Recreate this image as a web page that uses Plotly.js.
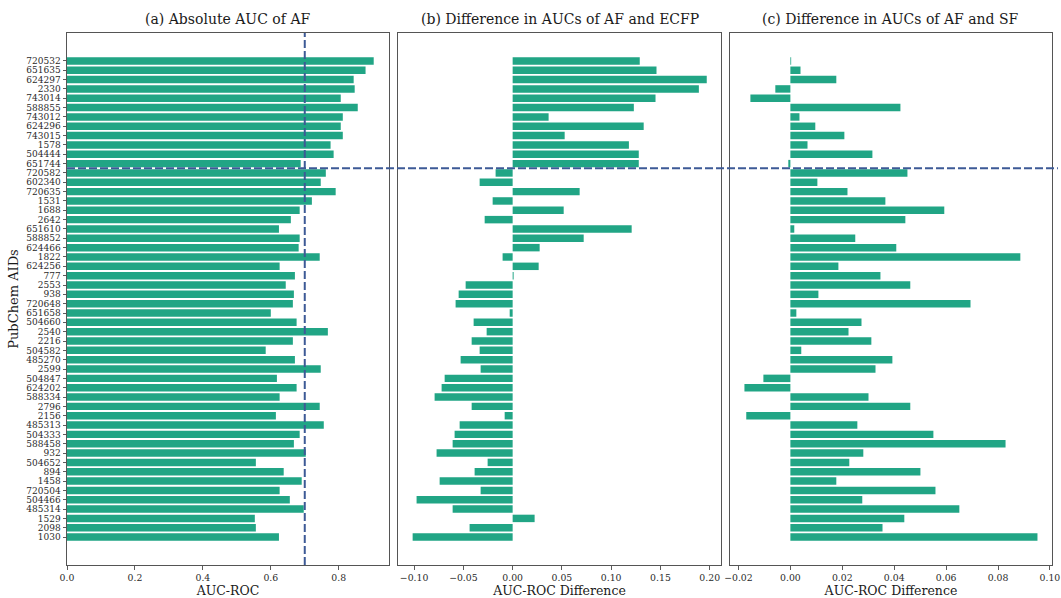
<!DOCTYPE html>
<html>
<head>
<meta charset="utf-8">
<script src="https://cdn.plot.ly/plotly-3.0.1.min.js"></script>
<style>html,body{margin:0;padding:0;background:#fff;}#chart{width:1061px;height:598px;}</style>
</head>
<body>
<div id="chart"></div>
<script>
const aids = ["720532","651635","624297","2330","743014","588855","743012","624296","743015","1578","504444","651744",
"720582","602340","720635","1531","1688","2642","651610","588852","624466","1822","624256","777","2553","938","720648",
"651658","504660","2540","2216","504582","485270","2599","504847","624202","588334","2796","2156","485313","504333",
"588458","932","504652","894","1458","720504","504466","485314","1529","2098","1030"];

const aucAF = [0.903,0.879,0.844,0.847,0.806,0.856,0.812,0.806,0.812,0.776,0.785,0.688,
0.762,0.747,0.791,0.721,0.685,0.659,0.624,0.685,0.682,0.744,0.626,0.671,0.644,0.668,0.665,
0.600,0.676,0.768,0.665,0.585,0.671,0.747,0.618,0.676,0.626,0.744,0.615,0.756,0.685,
0.668,0.703,0.556,0.638,0.691,0.626,0.656,0.697,0.553,0.556,0.624];

const diffECFP = [0.129,0.146,0.197,0.189,0.145,0.123,0.0365,0.133,0.0528,0.118,0.128,0.128,
-0.0173,-0.0335,0.068,-0.0203,0.0518,-0.0284,0.1208,0.0721,0.0274,-0.0102,0.0264,0.001,-0.0477,-0.0548,-0.0579,
-0.003,-0.0396,-0.0264,-0.0416,-0.0335,-0.0528,-0.0325,-0.069,-0.0721,-0.0792,-0.0416,-0.0081,-0.0538,-0.0589,
-0.0609,-0.0772,-0.0254,-0.0386,-0.0741,-0.0325,-0.0975,-0.0609,0.0223,-0.0437,-0.1015];

const diffSF = [0.0003,0.0039,0.0177,-0.0058,-0.0154,0.0424,0.0035,0.0096,0.0208,0.0066,0.0316,-0.0008,
0.0451,0.0104,0.022,0.0366,0.0593,0.0443,0.0015,0.025,0.0408,0.0886,0.0185,0.0347,0.0462,0.0108,0.0694,
0.0023,0.0274,0.0224,0.0312,0.0042,0.0393,0.0328,-0.0104,-0.0177,0.0301,0.0462,-0.017,0.0258,0.0551,
0.0829,0.0281,0.0227,0.0501,0.0177,0.0559,0.0277,0.0651,0.0439,0.0355,0.0952];

const panelTitles = ["(a) Absolute AUC of AF","(b) Difference in AUCs of AF and ECFP","(c) Difference in AUCs of AF and SF"];
const xTitles = ["AUC-ROC","AUC-ROC Difference","AUC-ROC Difference"];
const threshold = 0.7;

const FONT = "DejaVu Serif, Liberation Serif, serif";
const BAR = "#21a585";
const LINE = "#3d5a96";

const mk = (x, xa, ya) => ({type:'bar', orientation:'h', y:aids, x:x, xaxis:xa, yaxis:ya,
  marker:{color:BAR, line:{width:0}}, hoverinfo:'x+y'});

const data = [mk(aucAF,'x','y'), mk(diffECFP,'x2','y2'), mk(diffSF,'x3','y3')];

const domains = [[0,0.3269],[0.336,0.664],[0.673,1]];
const yr = [51+2.99, -2.99];
const baseY = {type:'category', categoryorder:'array', categoryarray:aids, range:yr,
  showline:true, mirror:true, linecolor:'#555', linewidth:1, showgrid:false, zeroline:false, fixedrange:true};
const baseX = (dom, rng, dt, fmt, title) => ({domain:dom, range:rng, dtick:dt, tick0:0, tickformat:fmt,
  showline:true, mirror:true, linecolor:'#555', linewidth:1, showgrid:false, zeroline:false,
  ticks:'outside', ticklen:3.5, tickwidth:0.8, tickcolor:'#333',
  tickfont:{family:FONT, size:9.3, color:'#2a2a2a'},
  title:{text:title, font:{family:FONT, size:12.5, color:'#1a1a1a'}, standoff:4}});

const layout = {
  width:1061, height:598,
  margin:{l:67, r:9, t:33, b:33, pad:0},
  paper_bgcolor:'#fff', plot_bgcolor:'#fff',
  showlegend:false, bargap:0.2,
  font:{family:FONT, color:'#1a1a1a'},
  xaxis: baseX(domains[0],[0,0.948],0.2,'.1f',xTitles[0]),
  xaxis2: baseX(domains[1],[-0.1164,0.2115],0.05,'.2f',xTitles[1]),
  xaxis3: baseX(domains[2],[-0.0233,0.1008],0.02,'.2f',xTitles[2]),
  yaxis: Object.assign({}, baseY, {anchor:'x', ticks:'outside', ticklen:3.5, tickwidth:0.8, tickcolor:'#333',
     tickmode:'array', tickvals:aids, ticktext:aids,
     tickfont:{family:FONT, size:9, color:'#2a2a2a'},
     title:{text:'PubChem AIDs', font:{family:FONT, size:13, color:'#1a1a1a'}, standoff:4}}),
  yaxis2: Object.assign({}, baseY, {anchor:'x2', showticklabels:false, ticks:''}),
  yaxis3: Object.assign({}, baseY, {anchor:'x3', showticklabels:false, ticks:''}),
  annotations: panelTitles.map((t,i)=>({text:t, xref:'paper', yref:'paper',
     x:(domains[i][0]+domains[i][1])/2, y:1, xanchor:'center', yanchor:'bottom', yshift:4,
     showarrow:false, font:{family:FONT, size:14, color:'#1a1a1a'}})),
  shapes:[
    {type:'line', xref:'x', yref:'paper', x0:threshold, x1:threshold, y0:0, y1:1,
     line:{color:LINE, width:2, dash:'8px,3px'}},
    {type:'line', xref:'paper', yref:'y', x0:0, x1:1.006, y0:11.5, y1:11.5,
     line:{color:LINE, width:2, dash:'8px,3px'}}
  ]
};

Plotly.newPlot('chart', data, layout, {staticPlot:true, displayModeBar:false});
</script>
</body>
</html>
